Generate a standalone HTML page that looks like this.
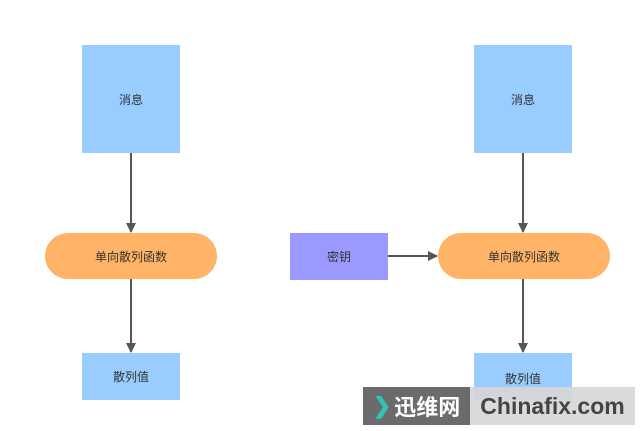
<!DOCTYPE html>
<html><head><meta charset="utf-8"><style>
body{margin:0;width:640px;height:431px;background:#fff;position:relative;overflow:hidden;font-family:"Liberation Sans","Noto Sans CJK SC",sans-serif;}
.b{position:absolute;display:flex;align-items:center;justify-content:center;font-size:12px;color:#333;}
.blue{background:#99ccff;}
.pill{background:#ffb366;border-radius:23px;}
</style></head><body>
<svg width="640" height="431" style="position:absolute;left:0;top:0">
<defs><marker id="a" markerWidth="10" markerHeight="10" refX="9" refY="5" orient="auto" markerUnits="userSpaceOnUse"><path d="M0,0 L10,5 L0,10 z" fill="#555"/></marker></defs>
<g stroke="#555" stroke-width="2">
<line x1="131" y1="153" x2="131" y2="232" marker-end="url(#a)"/>
<line x1="131" y1="279" x2="131" y2="352" marker-end="url(#a)"/>
<line x1="523" y1="153" x2="523" y2="232" marker-end="url(#a)"/>
<line x1="523" y1="279" x2="523" y2="352" marker-end="url(#a)"/>
<line x1="388" y1="256" x2="437" y2="256" marker-end="url(#a)"/>
</g></svg>
<div class="b blue" style="left:82px;top:45px;width:98px;height:108px">消息</div>
<div class="b pill" style="left:45px;top:233px;width:172px;height:46px">单向散列函数</div>
<div class="b blue" style="left:82px;top:353px;width:98px;height:47px">散列值</div>
<div class="b blue" style="left:474px;top:45px;width:98px;height:108px">消息</div>
<div class="b pill" style="left:438px;top:233px;width:172px;height:46px">单向散列函数</div>
<div class="b" style="left:290px;top:233px;width:98px;height:47px;background:#9999ff">密钥</div>
<div class="b blue" style="left:474px;top:353px;width:98px;height:47px;align-items:flex-start;padding-top:17px;box-sizing:border-box">散列值</div>
<div class="b" style="left:363px;top:387px;width:107px;height:38px;background:#6b6b6b;color:#fff;font-size:22px;font-weight:bold"><span style="color:#2ec4b6;margin-right:3px">❯</span>迅维网</div>
<div class="b" style="left:470px;top:387px;width:165px;height:38px;background:rgba(215,215,215,0.92);color:#444;font-size:23px;font-weight:bold">Chinafix.com</div>
</body></html>
